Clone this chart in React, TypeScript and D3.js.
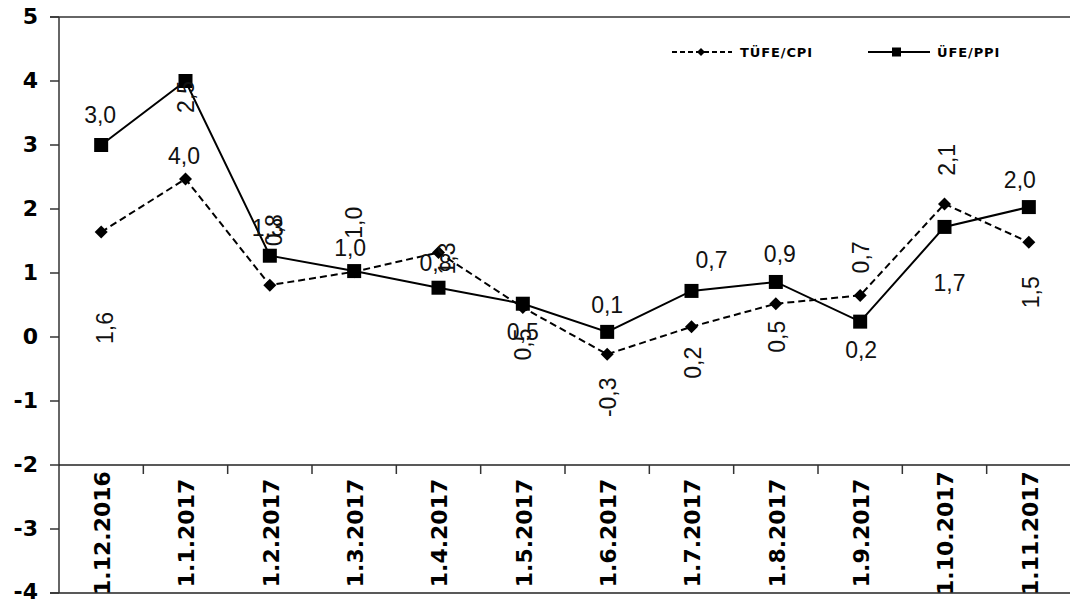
import React from "react";
import * as d3 from "d3";

const categories = ["1.12.2016","1.1.2017","1.2.2017","1.3.2017","1.4.2017","1.5.2017","1.6.2017","1.7.2017","1.8.2017","1.9.2017","1.10.2017","1.11.2017"];
const cpi = [1.64, 2.47, 0.81, 1.02, 1.32, 0.46, -0.27, 0.16, 0.52, 0.65, 2.08, 1.48];
const ppi = [3.0, 4.0, 1.27, 1.03, 0.77, 0.52, 0.08, 0.72, 0.86, 0.24, 1.72, 2.03];
const yTicks = [-4, -3, -2, -1, 0, 1, 2, 3, 4, 5];
const seriesNames = ["TÜFE/CPI", "ÜFE/PPI"];

// label placement (offset from own point, rotation) – styling, not data
const ppiLabelPos = [
  [-1, -30, 0], [-1.5, 75, 0], [-2, -28, 0], [-4, -23, 0], [-3, -25, 0], [0, 28, 0],
  [0, -27, 0], [20, -31, 0], [4, -28, 0], [1, 28, 0], [5, 56, 0], [-9, -27, 0],
];
const cpiLabelPos = [
  [4, 96, -90], [0, -82, -90], [4, -55, -90], [0, -49, -90], [8, 6, -90], [0, 37, -90],
  [1, 43, -90], [1, 36, -90], [1, 33, -90], [1, -38, -90], [2, -44, -90], [2, 50, -90],
];

const W = 1070, H = 604;
const left = 59, right = 1071, top = 17, bottom = 593;

export default function App() {
  const x = d3.scaleBand<string>().domain(categories).range([left, right]);
  const y = d3.scaleLinear().domain([-4, 5]).range([bottom, top]);
  const cx = (i: number) => (x(categories[i]) as number) + x.bandwidth() / 2;
  const line = d3.line<number>().x((_, i) => cx(i)).y((d) => y(d));
  const fmt = (v: number) => v.toFixed(1).replace(".", ",");
  const axisFont = "'DejaVu Sans', Verdana, sans-serif";
  const labelFont = "'Liberation Sans', Arial, sans-serif";
  const diamond = (px: number, py: number, r: number) =>
    `M${px},${py - r}L${px + r},${py}L${px},${py + r}L${px - r},${py}Z`;

  return (
    <svg width={W} height={H} style={{ position: "absolute", left: 0, top: 0, background: "#fff" }}>
      {/* frame lines */}
      <line x1={50} x2={W} y1={y(5)} y2={y(5)} stroke="#333" strokeWidth={1.5} />
      <line x1={50} x2={W} y1={y(-4)} y2={y(-4)} stroke="#222" strokeWidth={1.5} />
      <line x1={left} x2={left} y1={y(5)} y2={y(-4)} stroke="#333" strokeWidth={1.5} />
      <line x1={left} x2={W} y1={y(-2)} y2={y(-2)} stroke="#222" strokeWidth={1.5} />
      {yTicks.map((t) => (
        <g key={t}>
          <line x1={50} x2={left} y1={y(t)} y2={y(t)} stroke="#333" strokeWidth={1.5} />
          <text x={38} y={y(t)} dy={t === -4 ? "0.28em" : "0.34em"} textAnchor="end" fontFamily={axisFont} fontWeight="bold" fontSize={22} fill="#000">{t}</text>
        </g>
      ))}
      {categories.slice(1).map((c) => (
        <line key={c} x1={x(c) as number} x2={x(c) as number} y1={y(-2)} y2={y(-2) + 9} stroke="#333" strokeWidth={1.5} />
      ))}
      {categories.map((c, i) => (
        <text key={c} transform={`translate(${cx(i) + 1},${533}) rotate(-90)`} dy="0.36em" textAnchor="middle"
          fontFamily={axisFont} fontWeight="bold" fontSize={22} fill="#000">{c}</text>
      ))}

      {/* series */}
      <path d={line(cpi) as string} fill="none" stroke="#000" strokeWidth={2} strokeDasharray="7,4" />
      <path d={line(ppi) as string} fill="none" stroke="#000" strokeWidth={2} />
      {cpi.map((v, i) => <path key={"c" + i} d={diamond(cx(i), y(v), 6.5)} fill="#000" />)}
      {ppi.map((v, i) => <rect key={"p" + i} x={cx(i) - 7} y={y(v) - 7} width={14} height={14} fill="#000" />)}

      {/* data labels */}
      {ppi.map((v, i) => {
        const [dx, dy, r] = ppiLabelPos[i];
        return <text key={"pl" + i} transform={`translate(${cx(i) + dx},${y(v) + dy}) rotate(${r})`} dy="0.36em" textAnchor="middle"
          fontFamily={labelFont} fontSize={23} fill="#111">{fmt(v)}</text>;
      })}
      {cpi.map((v, i) => {
        const [dx, dy, r] = cpiLabelPos[i];
        return <text key={"cl" + i} transform={`translate(${cx(i) + dx},${y(v) + dy}) rotate(${r})`} dy="0.36em" textAnchor="middle"
          fontFamily={labelFont} fontSize={23} fill="#111">{fmt(v)}</text>;
      })}

      {/* legend */}
      <line x1={672} x2={732} y1={52} y2={52} stroke="#000" strokeWidth={2} strokeDasharray="5,3" />
      <path d={diamond(701, 52, 4)} fill="#000" />
      <text x={740} y={57} fontFamily={axisFont} fontWeight="bold" fontSize={13} letterSpacing={0.9} fill="#000">{seriesNames[0]}</text>
      <line x1={868} x2={930} y1={52} y2={52} stroke="#000" strokeWidth={2} />
      <rect x={892} y={47.5} width={9} height={9} fill="#000" />
      <text x={937} y={57} fontFamily={axisFont} fontWeight="bold" fontSize={13} letterSpacing={0.9} fill="#000">{seriesNames[1]}</text>
    </svg>
  );
}
